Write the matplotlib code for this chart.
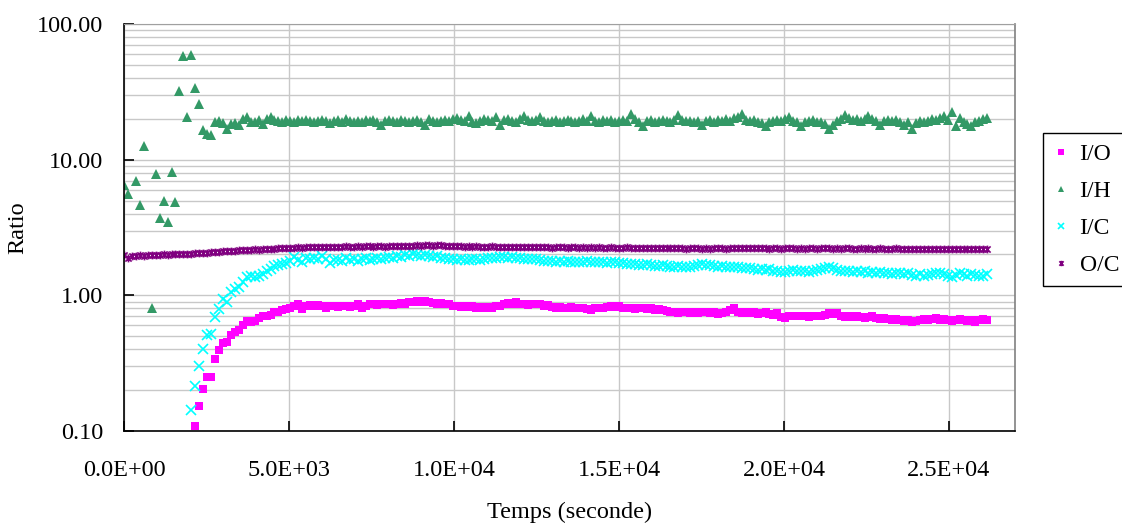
import numpy as np
import matplotlib
matplotlib.use("Agg")
import matplotlib.pyplot as plt
from matplotlib.path import Path
from matplotlib.ticker import FixedLocator, FuncFormatter, LogLocator, NullFormatter

# ---------------- data ----------------
SAMPLE_STEP = 120  # seconds between measurements
N_SAMPLES = 219
time_s = np.arange(N_SAMPLES) * SAMPLE_STEP

IO_START = 18
ratio_IO = [
    0.108, 0.154, 0.203, 0.248, 0.252, 0.339, 0.393, 0.448, 0.450, 0.513, 0.533, 0.558, 0.600, 0.646, 0.640, 0.646, 0.685,
    0.70, 0.71, 0.72, 0.75, 0.76, 0.78, 0.79, 0.81, 0.84, 0.86, 0.79, 0.84, 0.85, 0.84, 0.85, 0.83, 0.80, 0.83, 0.84, 0.82,
    0.83, 0.84, 0.82, 0.83, 0.86, 0.80, 0.84, 0.86, 0.87, 0.85, 0.86, 0.87, 0.86, 0.85, 0.87, 0.88, 0.86, 0.89, 0.90, 0.91,
    0.89, 0.91, 0.90, 0.88, 0.87, 0.88, 0.86, 0.87, 0.84, 0.83, 0.82, 0.84, 0.82, 0.83, 0.81, 0.82, 0.80, 0.82, 0.81, 0.83,
    0.84, 0.86, 0.88, 0.87, 0.89, 0.86, 0.87, 0.85, 0.86, 0.87, 0.86, 0.84, 0.85, 0.82, 0.81, 0.82, 0.80, 0.81, 0.82, 0.80,
    0.81, 0.80, 0.79, 0.775, 0.80, 0.81, 0.80, 0.82, 0.83, 0.82, 0.83, 0.81, 0.80, 0.81, 0.79, 0.80, 0.80, 0.79, 0.80, 0.78,
    0.79, 0.78, 0.77, 0.76, 0.75, 0.74, 0.75, 0.76, 0.74, 0.75, 0.74, 0.76, 0.75, 0.74, 0.75, 0.73, 0.74, 0.75, 0.78, 0.81,
    0.76, 0.74, 0.75, 0.74, 0.75, 0.73, 0.74, 0.75, 0.73, 0.72, 0.74, 0.69, 0.68, 0.70, 0.71, 0.70, 0.71, 0.70, 0.69, 0.70,
    0.71, 0.70, 0.72, 0.74, 0.73, 0.74, 0.70, 0.69, 0.70, 0.69, 0.70, 0.69, 0.68, 0.69, 0.70, 0.68, 0.67, 0.68, 0.67, 0.66,
    0.67, 0.66, 0.65, 0.66, 0.64, 0.65, 0.66, 0.67, 0.66, 0.67, 0.68, 0.66, 0.67, 0.66, 0.65, 0.66, 0.67, 0.66, 0.65, 0.66,
    0.635, 0.66, 0.67, 0.66,
]

nan = float("nan")
ratio_IH = [
    6.5, 5.6, nan, 7.0, 4.6, 12.6, nan, 0.80, 7.8, 3.7, 5.0, 3.5, 8.1, 4.9, 32, 58, 20.7, 59, 34, 25.7, 16.5, 15.4, 15.1,
    18.8, 19.3, 18.5, 16.9, 18.3, 18.5, 17.9, 20.1, 20.7, 18.8, 18.9, 19.6, 18.3, 20.0, 20.5, 19.6,
    19.4, 19.0, 19.6, 19.3, 19.1, 19.5, 19.2, 19.7, 19.3, 18.9, 19.4, 19.6, 19.2, 18.6, 19.3, 19.5, 19.1, 19.8, 19.4, 19.0,
    19.3, 18.8, 19.5, 19.2, 19.6, 19.1, 18.0, 19.4, 19.7, 19.2, 19.0, 19.5, 19.3, 18.9, 19.4, 19.6, 19.1, 18.0, 19.8, 19.2,
    19.0, 19.4, 19.6, 19.3, 19.9, 20.3, 19.6, 19.2, 21.0, 19.0, 18.6, 19.3, 20.1, 19.5, 19.2, 20.8, 18.0, 19.6, 20.0, 19.4,
    19.1, 19.8, 21.0, 19.5, 19.2, 19.7, 20.8, 19.3, 18.9, 19.4, 19.6, 19.0, 19.3, 19.7, 19.2, 18.9, 19.4, 19.8, 19.3, 20.9,
    19.4, 19.1, 19.6, 19.3, 19.5, 19.0, 19.4, 19.7, 19.2, 21.6, 19.8, 19.0, 17.7, 19.2, 19.5, 19.1, 19.4, 19.6, 19.3, 19.0,
    19.5, 21.3, 19.6, 19.2, 19.4, 18.9, 19.3, 18.0, 19.2, 19.5, 19.1, 19.6, 19.3, 19.8, 19.4, 20.2, 20.6, 21.6, 19.7, 19.3,
    19.5, 19.0, 18.6, 17.7, 19.1, 19.4, 19.6, 19.2, 19.8, 20.5, 19.3, 18.9, 17.7, 19.0, 19.3, 19.5, 19.1, 18.8, 18.2, 16.8,
    18.0, 19.2, 19.8, 21.3, 20.2, 19.6, 19.9, 19.4, 20.0, 20.9, 19.8, 19.2, 18.0, 19.3, 19.6, 19.2, 19.5, 19.0, 18.0, 19.1,
    16.8, 18.5, 19.2, 19.0, 19.4, 19.8, 19.5, 20.2, 20.9, 19.6, 22.3, 17.7, 20.2, 19.0, 18.4, 17.7, 19.0, 19.4, 19.9, 20.4,
]

IC_START = 17
ratio_IC = [
    0.143, 0.216, 0.303, 0.40, 0.507, 0.52, 0.69, 0.79, 0.946, 0.90, 1.06, 1.11, 1.16, 1.25, 1.36, 1.38, 1.36, 1.40, 1.43, 1.50,
    1.57, 1.64, 1.66, 1.71, 1.74, 1.78, 1.92, 1.82, 1.76, 1.87, 1.85, 1.88, 1.84, 1.94, 1.86, 1.73, 1.81, 1.83, 1.79, 1.87,
    1.82, 1.85, 1.80, 1.84, 1.88, 1.83, 1.86, 1.90, 1.84, 1.87, 1.92, 1.89, 1.95, 1.93, 1.98, 1.96, 2.00, 1.97, 1.95, 1.99,
    1.96, 1.93, 1.95, 1.90, 1.88, 1.86, 1.84, 1.82, 1.85, 1.83, 1.81, 1.84, 1.86, 1.82, 1.85, 1.88, 1.90, 1.87, 1.91, 1.92,
    1.89, 1.93, 1.90, 1.88, 1.86, 1.84, 1.86, 1.85, 1.83, 1.80, 1.78, 1.80, 1.77, 1.79, 1.76, 1.78, 1.76, 1.75, 1.77, 1.76,
    1.78, 1.76, 1.77, 1.75, 1.76, 1.74, 1.75, 1.76, 1.74, 1.72, 1.70, 1.71, 1.69, 1.66, 1.68, 1.70, 1.67, 1.65, 1.64, 1.66,
    1.65, 1.63, 1.62, 1.64, 1.62, 1.63, 1.61, 1.65, 1.68, 1.70, 1.66, 1.67, 1.65, 1.63, 1.64, 1.62, 1.63, 1.61, 1.62, 1.60,
    1.58, 1.60, 1.57, 1.55, 1.56, 1.54, 1.56, 1.52, 1.50, 1.49, 1.48, 1.51, 1.53, 1.52, 1.50, 1.51, 1.49, 1.52, 1.53, 1.56,
    1.59, 1.62, 1.60, 1.55, 1.52, 1.50, 1.51, 1.49, 1.50, 1.48, 1.50, 1.47, 1.49, 1.46, 1.48, 1.45, 1.47, 1.44, 1.46, 1.45,
    1.43, 1.45, 1.42, 1.40, 1.44, 1.38, 1.41, 1.43, 1.45, 1.47, 1.44, 1.40, 1.36, 1.42, 1.45, 1.43, 1.40, 1.44, 1.42, 1.38,
    1.40, 1.43,
]

ratio_OC = [
    1.97, 1.88, 1.95, 1.96, 1.97, 1.96, 1.98, 1.97, 1.99, 1.98, 2.00, 1.99, 2.01, 2.00, 2.02, 2.01, 2.03, 2.02, 2.04, 2.05,
    2.06, 2.05, 2.08, 2.09, 2.10, 2.13, 2.12, 2.14, 2.13, 2.15, 2.16, 2.15, 2.17, 2.18, 2.17, 2.19, 2.20, 2.21, 2.20, 2.22,
    2.23, 2.24, 2.25, 2.24, 2.26, 2.25, 2.27, 2.26, 2.28, 2.27, 2.28, 2.29, 2.28, 2.27, 2.29, 2.28, 2.30, 2.29, 2.28, 2.30,
    2.29, 2.31, 2.30, 2.29, 2.31, 2.30, 2.29, 2.31, 2.30, 2.32, 2.31, 2.30, 2.32, 2.31, 2.33, 2.32, 2.34, 2.33, 2.32, 2.34,
    2.33, 2.32, 2.31, 2.32, 2.30, 2.31, 2.29, 2.30, 2.28, 2.30, 2.29, 2.28, 2.29, 2.30, 2.27, 2.28, 2.29, 2.28, 2.27, 2.28,
    2.27, 2.28, 2.27, 2.26, 2.28, 2.27, 2.26, 2.27, 2.25, 2.26, 2.27, 2.26, 2.25, 2.26, 2.27, 2.25, 2.26, 2.25, 2.26, 2.25,
    2.26, 2.25, 2.24, 2.26, 2.25, 2.24, 2.25, 2.26, 2.25, 2.24, 2.25, 2.24, 2.25, 2.23, 2.24, 2.25, 2.24, 2.23, 2.24, 2.25,
    2.22, 2.24, 2.21, 2.25, 2.22, 2.24, 2.20, 2.25, 2.21, 2.23, 2.22, 2.24, 2.21, 2.23, 2.25, 2.22, 2.23, 2.22, 2.24, 2.23,
    2.22, 2.23, 2.22, 2.21, 2.23, 2.22, 2.21, 2.22, 2.23, 2.22, 2.21, 2.22, 2.21, 2.23, 2.22, 2.21, 2.22, 2.23, 2.22, 2.21,
    2.22, 2.21, 2.24, 2.22, 2.21, 2.20, 2.22, 2.21, 2.22, 2.20, 2.21, 2.22, 2.21, 2.20, 2.21, 2.22, 2.21, 2.20, 2.21, 2.20,
    2.21, 2.20, 2.21, 2.20, 2.19, 2.21, 2.20, 2.21, 2.20, 2.19, 2.20, 2.21, 2.20, 2.19, 2.20, 2.21, 2.20, 2.19, 2.18,
]

series_labels = ["I/O", "I/H", "I/C", "O/C"]
x_ticks = [0, 5000, 10000, 15000, 20000, 25000]
y_ticks = [0.1, 1, 10, 100]

# ---------------- styling ----------------
plt.rcParams["font.family"] = ["Liberation Serif", "DejaVu Serif"]

star = Path([(-1, -1), (1, 1), (-1, 1), (1, -1), (0, -1.25), (0, 1.25)],
            [Path.MOVETO, Path.LINETO, Path.MOVETO, Path.LINETO, Path.MOVETO, Path.LINETO])

fig = plt.figure(figsize=(11.22, 5.26), dpi=100)
ax = fig.add_axes([124 / 1122, 1 - 431 / 526, (1015 - 124) / 1122, (431 - 24) / 526])

h1, = ax.plot(time_s[IO_START:IO_START + len(ratio_IO)], ratio_IO, ls="none", marker="s",
              ms=5.6, mfc="#FF00FF", mec="#FF00FF", mew=0, label=series_labels[0])
h2, = ax.plot(time_s[:len(ratio_IH)], ratio_IH, ls="none", marker="^",
              ms=7.0, mfc="#339966", mec="#339966", mew=0, label=series_labels[1])
h3, = ax.plot(time_s[IC_START:IC_START + len(ratio_IC)], ratio_IC, ls="none", marker="x",
              ms=6.5, mec="#00FFFF", mew=1.2, label=series_labels[2])
h4, = ax.plot(time_s[:len(ratio_OC)], ratio_OC, ls="none", marker=star,
              ms=5.6, mec="#800080", mfc="none", mew=1.2, label=series_labels[3])

ax.set_yscale("log")
ax.set_ylim(0.1, 100)
ax.set_xlim(0, 27000)
ax.yaxis.set_major_locator(FixedLocator(y_ticks))
ax.yaxis.set_major_formatter(FuncFormatter(lambda v, p: f"{v:.2f}"))
ax.yaxis.set_minor_locator(LogLocator(base=10, subs=np.arange(2, 10)))
ax.yaxis.set_minor_formatter(NullFormatter())
ax.xaxis.set_major_locator(FixedLocator(x_ticks))
ax.xaxis.set_major_formatter(FuncFormatter(lambda v, p: f"{v:.1E}"))

ax.grid(True, which="major", axis="x", color="#C8C8C8", lw=1.0)
ax.grid(True, which="both", axis="y", color="#C8C8C8", lw=1.0)
ax.set_axisbelow(True)

ax.tick_params(axis="both", which="major", direction="in", length=7, width=1.2,
               labelsize=17.5, colors="black")
ax.tick_params(axis="y", which="minor", length=0)
ax.tick_params(axis="x", pad=21)
ax.tick_params(axis="y", pad=15)

for s in ["left", "bottom"]:
    ax.spines[s].set_color("black")
    ax.spines[s].set_linewidth(1.2)
ax.spines["top"].set_color("#A0A0A0")
ax.spines["right"].set_color("#808080")
ax.spines["right"].set_linewidth(1.2)

ax.set_xlabel("Temps (seconde)", fontsize=17.5, labelpad=15)
ax.set_ylabel("Ratio", fontsize=17.5, labelpad=6)

leg = fig.legend(handles=[h1, h2, h3, h4], loc="upper left",
                 bbox_to_anchor=(1043 / 1122, 1 - 133 / 526), fontsize=17,
                 frameon=True, fancybox=False, edgecolor="black", framealpha=1,
                 markerscale=0.7, handlelength=0.6, handletextpad=0.5,
                 labelspacing=0.65, borderpad=0.45, borderaxespad=0)
leg.get_frame().set_linewidth(1.0)

fig.savefig("out.png", dpi=100)
